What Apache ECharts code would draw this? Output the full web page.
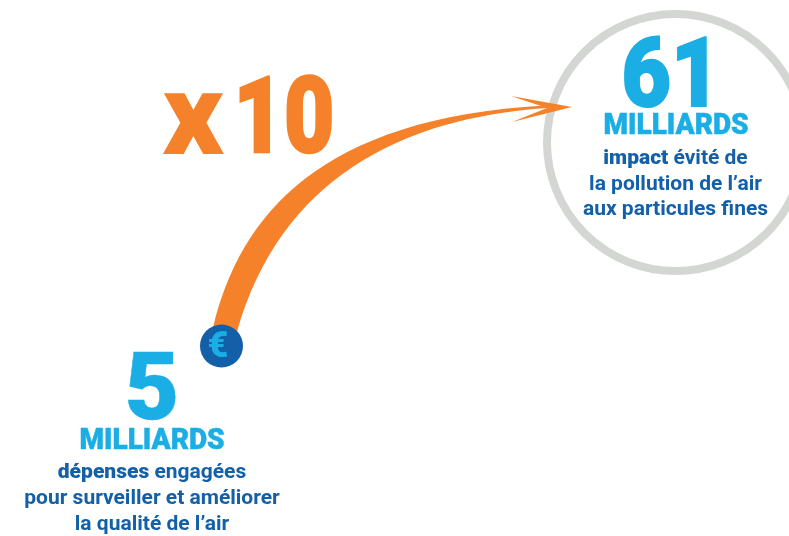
<!DOCTYPE html>
<html><head><meta charset="utf-8">
<style>html,body{margin:0;padding:0;background:#fff}#c{width:789px;height:536px}</style>
<script src="https://cdn.jsdelivr.net/npm/echarts@6/dist/echarts.min.js"></script>
</head><body><div id="c"></div>
<script>
const multiplierSign = 'x';
const multiplierValue = '10';
const amounts = ['5', '61'];
const unit = 'MILLIARDS';
const currency = '€';
const spendLines = [['dépenses', ' engagées'], ['', 'pour surveiller et améliorer'], ['', 'la qualité de l’air']];
const impactLines = [['impact', ' évité de'], ['', 'la pollution de l’air'], ['', 'aux particules fines']];
const ORANGE = '#F5822A', SKY = '#1AAEE5', BLUE = '#135FA8', GREY = '#D4D6D4';
const FF = 'Roboto';

echarts.graphic.registerShape('band', echarts.graphic.extendShape({
  shape:{},
  buildPath(ctx){
    ctx.moveTo(213,328);
    ctx.bezierCurveTo(240,215,320,118,545,105.5);
    ctx.lineTo(547,108);
    ctx.bezierCurveTo(400,118,280,180,237,332);
    ctx.closePath();
  }
}));
function bigText(t, x, y, size, color, sx, sw) {
  return {type:'text', z:10, x, y, scaleX:sx||1, style:{text:t, x:0, y:0, textAlign:'center', textVerticalAlign:'middle',
    font:`900 ${size}px ${FF}`, fill:color, stroke:sw?color:null, lineWidth:sw||0}};
}
function bodyText(parts, x, y) {
  const txt = (parts[0] ? `{b|${parts[0]}}` : '') + `{m|${parts[1]}}`;
  return {type:'text', z:10, style:{text:txt, x, y, textAlign:'center', textVerticalAlign:'middle',
    rich:{b:{font:`900 21px ${FF}`, fill:BLUE}, m:{font:`700 21px ${FF}`, fill:BLUE}}}};
}
const els = [
  {type:'circle', z:1, shape:{cx:675.5, cy:142.5, r:128.5}, style:{fill:'#fff', stroke:GREY, lineWidth:8}},
  {type:'band', z:3, shape:{}, style:{fill:ORANGE}},
  {type:'polygon', z:4, shape:{points:[[511,96],[572,107],[512,122],[547,108]]}, style:{fill:ORANGE}},
  {type:'circle', z:5, shape:{cx:221.5, cy:346, r:21.5}, style:{fill:BLUE}},
  bigText(currency, 218, 348, 36, SKY),
  bigText(multiplierSign, 193, 125, 115, ORANGE, 1.04),
  bigText(multiplierValue, 284, 125.5, 106, ORANGE, 0.82, 2.5),
  bigText(amounts[1], 671, 81.5, 97, SKY, 0.88, 2),
  bigText(unit, 676, 127, 29.5, SKY, 0.95, 0.5),
  bigText(amounts[0], 152, 395, 94, SKY, 1, 0.5),
  bigText(unit, 152, 442, 29.5, SKY, 0.95, 0.5),
];
impactLines.forEach((l,i)=>els.push(bodyText(l, 675.5, 159+i*25.5)));
spendLines.forEach((l,i)=>els.push(bodyText(l, 152, 473+i*26)));
const chart = echarts.init(document.getElementById('c'), null, {renderer:'canvas'});
chart.setOption({animation:false, backgroundColor:'#fff', graphic:{elements:els}});
</script></body></html>
